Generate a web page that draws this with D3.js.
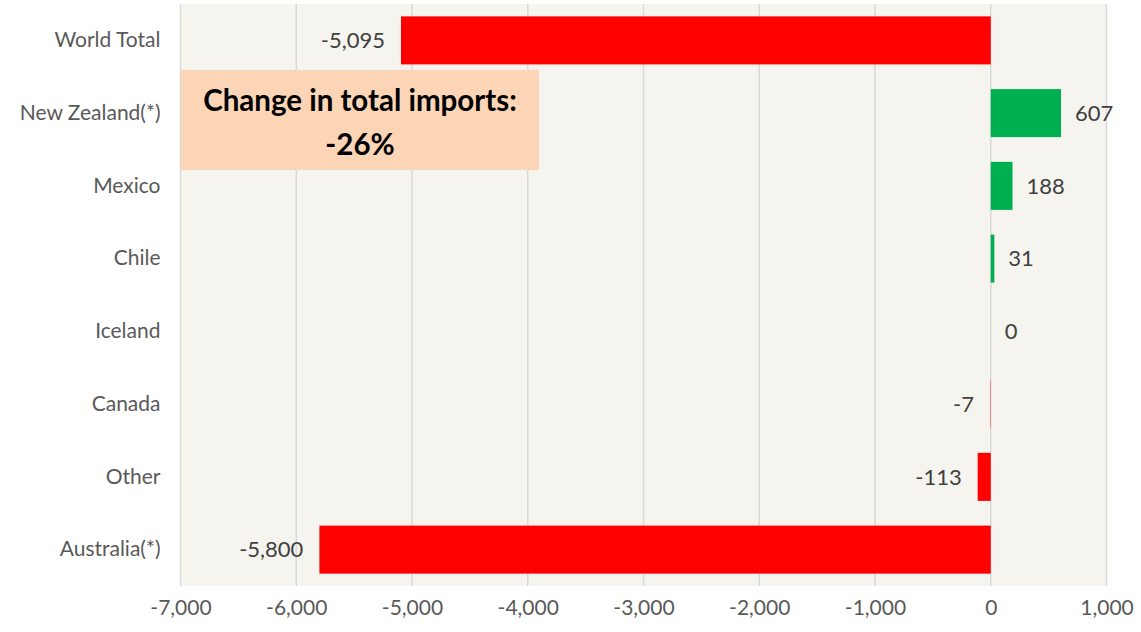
<!DOCTYPE html>
<html>
<head>
<meta charset="utf-8">
<script src="https://cdn.jsdelivr.net/npm/d3@7"></script>
<style>
  body { margin: 0; background: #fff; }
  svg { display: block; }
</style>
</head>
<body>
<svg id="chart" width="1141" height="632"></svg>
<script>
// data
var categories = ['World Total', 'New Zealand(*)', 'Mexico', 'Chile', 'Iceland', 'Canada', 'Other', 'Australia(*)'];
var values = [-5095, 607, 188, 31, 0, -7, -113, -5800];
var tickValues = [-7000, -6000, -5000, -4000, -3000, -2000, -1000, 0, 1000];
var boxLines = ['Change in total imports:', '-26%'];

var svg = d3.select('#chart');
var margin = { left: 180.5, right: 34.5, top: 4, bottom: 46 };
var W = 1141, H = 632;
// excel style: plain hyphen for minus
var fmt = d3.formatLocale({ decimal: '.', thousands: ',', grouping: [3], currency: ['', ''], minus: '-' }).format(',');

var x = d3.scaleLinear().domain([-7000, 1000]).range([margin.left, W - margin.right]);
var y = d3.scaleBand().domain(categories).range([margin.top, H - margin.bottom]).paddingInner(0.34).paddingOuter(0.17);

// plot background
svg.append('rect')
    .attr('x', x(-7000))
    .attr('y', margin.top)
    .attr('width', x(1000) - x(-7000))
    .attr('height', H - margin.bottom - margin.top)
    .attr('fill', '#f5f4ef');

// vertical gridlines
svg.append('g')
    .selectAll('line')
    .data(tickValues)
    .join('line')
    .attr('x1', d => x(d))
    .attr('x2', d => x(d))
    .attr('y1', margin.top)
    .attr('y2', H - margin.bottom)
    .attr('stroke', '#d9d9d9')
    .attr('stroke-width', 1.5);

// x axis labels
var xAxis = d3.axisBottom(x).tickValues(tickValues).tickFormat(fmt).tickSize(0).tickPadding(14);
var gx = svg.append('g')
    .attr('transform', 'translate(0,' + (H - margin.bottom) + ')')
    .call(xAxis);
gx.select('.domain').remove();
gx.selectAll('text')
    .attr('font-family', 'Lato, sans-serif')
    .attr('font-size', 21)
    .attr('fill', '#595959');

// y axis labels
var yAxis = d3.axisLeft(y).tickSize(0).tickPadding(20);
var gy = svg.append('g')
    .attr('transform', 'translate(' + margin.left + ',0)')
    .call(yAxis);
gy.select('.domain').remove();
gy.selectAll('text')
    .attr('font-family', 'Lato, sans-serif')
    .attr('font-size', 21)
    .attr('fill', '#595959');

// bars
svg.append('g')
    .selectAll('rect')
    .data(values)
    .join('rect')
    .attr('x', d => x(Math.min(0, d)))
    .attr('y', (d, i) => y(categories[i]))
    .attr('width', d => Math.max(Math.abs(x(d) - x(0)), d === 0 ? 0 : 1))
    .attr('height', y.bandwidth())
    .attr('fill', d => d >= 0 ? '#00b050' : '#ff0000')
    .attr('fill-opacity', d => Math.abs(d) < 20 ? 0.35 : 1);

// data labels
svg.append('g')
    .selectAll('text')
    .data(values)
    .join('text')
    .attr('x', d => d >= 0 ? x(d) + 14 : x(d) - 16)
    .attr('y', (d, i) => y(categories[i]) + y.bandwidth() / 2)
    .attr('dy', '0.35em')
    .attr('text-anchor', d => d >= 0 ? 'start' : 'end')
    .attr('font-family', 'Lato, sans-serif')
    .attr('font-size', 22)
    .attr('fill', '#404040')
    .text(d => fmt(d));

// annotation box
var box = svg.append('g');
box.append('rect')
    .attr('x', 181)
    .attr('y', 70)
    .attr('width', 358)
    .attr('height', 100)
    .attr('fill', '#fbd5b5');
box.selectAll('text')
    .data(boxLines)
    .join('text')
    .attr('x', 360)
    .attr('y', (d, i) => 111 + i * 44)
    .attr('text-anchor', 'middle')
    .attr('font-family', 'Lato, sans-serif')
    .attr('font-weight', 'bold')
    .attr('font-size', 29.5)
    .attr('fill', '#000')
    .text(d => d);
</script>
</body>
</html>
